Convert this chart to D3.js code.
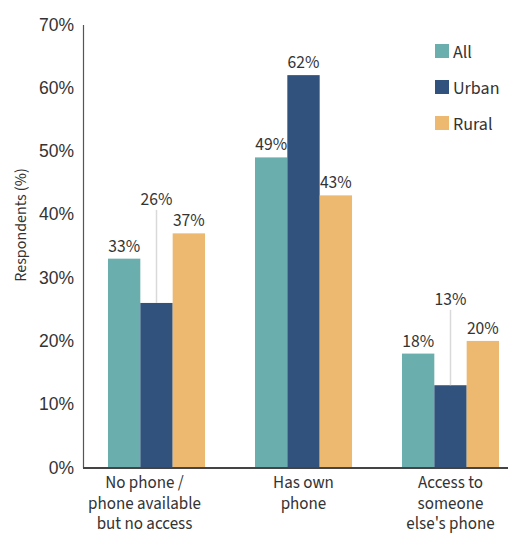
<!DOCTYPE html>
<html>
<head>
<meta charset="utf-8">
<script src="https://cdn.jsdelivr.net/npm/d3@7"></script>
<style>
  html, body { margin: 0; padding: 0; background: #fff; }
  svg { display: block; font-family: "Source Sans Pro", "Source Sans 3", Lato, sans-serif; }
</style>
</head>
<body>
<svg id="chart" width="508" height="536"></svg>
<script>
// Phone access by respondent group
const categories = [
  ["No phone /", "phone available", "but no access"],
  ["Has own", "phone"],
  ["Access to", "someone", "else's phone"]
];
const seriesNames = ["All", "Urban", "Rural"];
const allValues   = [33, 49, 18];
const urbanValues = [26, 62, 13];
const ruralValues = [37, 43, 20];
// Heights (in %) at which short Urban labels are lifted with a leader line
const urbanCalloutAt = [41.5, null, 25.7];
const yTicks = [0, 10, 20, 30, 40, 50, 60, 70];

const colors = { All: "#6aafae", Urban: "#30527c", Rural: "#edb970" };
const seriesValues = { All: allValues, Urban: urbanValues, Rural: ruralValues };

const svg = d3.select("#chart");
const margin = { left: 83 };
const fs = 17.5;

const y = d3.scaleLinear().domain([0, 70]).range([467.5, 24.5]);
const x0 = d3.scaleBand()
  .domain(d3.range(categories.length))
  .range([margin.left, 524])
  .paddingInner(0.34)
  .paddingOuter(0.17);
const x1 = d3.scaleBand().domain(seriesNames).range([0, x0.bandwidth()]);

// Y axis
const yAxis = svg.append("g")
  .attr("transform", `translate(${margin.left},0)`)
  .call(d3.axisLeft(y).tickValues(yTicks).tickFormat(d => d + "%").tickSize(0).tickPadding(9));
yAxis.select(".domain").attr("stroke", "#555").attr("stroke-width", 1.2);
yAxis.selectAll("text").attr("font-size", fs).attr("fill", "#333").attr("font-family", null);

// Bars
const groups = svg.append("g").selectAll("g")
  .data(categories.map((c, i) => i))
  .join("g")
  .attr("transform", i => `translate(${x0(i)},0)`);

groups.selectAll("rect")
  .data(i => seriesNames.map(s => ({ s, i, v: seriesValues[s][i] })))
  .join("rect")
  .attr("x", d => x1(d.s))
  .attr("width", x1.bandwidth())
  .attr("y", d => y(d.v))
  .attr("height", d => y(0) - y(d.v))
  .attr("fill", d => colors[d.s]);

// Leader lines for lifted labels
groups.selectAll("line.leader")
  .data(i => urbanCalloutAt[i] == null ? [] : [{ i, v: urbanValues[i], at: urbanCalloutAt[i] }])
  .join("line")
  .attr("class", "leader")
  .attr("x1", x1("Urban") + x1.bandwidth() / 2)
  .attr("x2", x1("Urban") + x1.bandwidth() / 2)
  .attr("y1", d => y(d.at) + 5)
  .attr("y2", d => y(d.v))
  .attr("stroke", "#d9d9d9")
  .attr("stroke-width", 1.5);

// Value labels
groups.selectAll("text.value")
  .data(i => seriesNames.map(s => ({ s, i, v: seriesValues[s][i] })))
  .join("text")
  .attr("class", "value")
  .attr("x", d => x1(d.s) + x1.bandwidth() / 2)
  .attr("y", d => (d.s === "Urban" && urbanCalloutAt[d.i] != null) ? y(urbanCalloutAt[d.i]) : y(d.v) - 7)
  .attr("text-anchor", "middle")
  .attr("font-size", fs)
  .attr("fill", "#333")
  .text(d => d.v + "%");

// X axis baseline
svg.append("line")
  .attr("x1", margin.left).attr("x2", 508)
  .attr("y1", y(0) + 0.5).attr("y2", y(0) + 0.5)
  .attr("stroke", "#444").attr("stroke-width", 1.8);

// Category labels, one text per line
const labelShift = [-12, 0, 0];
const lineData = categories.flatMap((lines, i) => lines.map((t, j) => ({ t, i, j })));
svg.append("g").selectAll("text")
  .data(lineData)
  .join("text")
  .attr("x", d => x0(d.i) + x0.bandwidth() / 2 + labelShift[d.i])
  .attr("y", d => 488 + d.j * 20.5)
  .attr("text-anchor", "middle")
  .attr("font-size", 17)
  .attr("fill", "#333")
  .text(d => d.t);

// Y axis title
svg.append("text")
  .attr("transform", "translate(26,225) rotate(-90)")
  .attr("text-anchor", "middle")
  .attr("font-size", 16)
  .attr("fill", "#333")
  .text("Respondents (%)");

// Legend
const legend = svg.append("g").attr("transform", "translate(435,44)");
const items = legend.selectAll("g")
  .data(seriesNames)
  .join("g")
  .attr("transform", (d, i) => `translate(0,${i * 36})`);
items.append("rect").attr("width", 14).attr("height", 14).attr("fill", d => colors[d]);
items.append("text")
  .attr("x", 18).attr("y", 13.5)
  .attr("font-size", 18)
  .attr("fill", "#333")
  .text(d => d);
</script>
</body>
</html>
